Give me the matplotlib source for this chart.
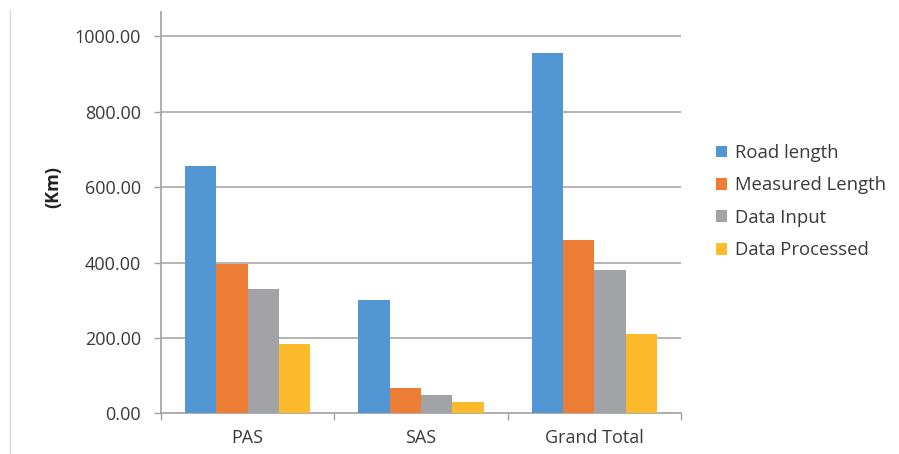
import matplotlib
matplotlib.use("Agg")
import matplotlib.pyplot as plt
import numpy as np

categories = ["PAS", "SAS", "Grand Total"]
series_names = ["Road length", "Measured Length", "Data Input", "Data Processed"]
road_length = [655, 301, 956]
measured_length = [395, 66, 459]
data_input = [330, 49, 379]
data_processed = [184, 29, 211]
yticks = [0, 200, 400, 600, 800, 1000]
ytick_labels = ["0.00", "200.00", "400.00", "600.00", "800.00", "1000.00"]

colors = ["#5297D3", "#ED7D35", "#A2A3A6", "#FDBA2A"]
plt.rcParams['font.family'] = ['Open Sans', 'DejaVu Sans']
txt = "#3a3a3a"

fig = plt.figure(figsize=(8.99, 4.54), dpi=100)
ax = fig.add_axes([0.179, 0.0896, 0.5785, 0.884])

x = np.arange(len(categories))
w = 0.181
all_series = [road_length, measured_length, data_input, data_processed]
for i, (vals, name, c) in enumerate(zip(all_series, series_names, colors)):
    ax.bar(x + (i - 1.5) * w, vals, width=w, color=c, label=name, zorder=3)

ax.set_xlim(-0.5, 2.5)
ax.set_ylim(0, 1065)
ax.set_yticks(yticks)
ax.set_yticklabels(ytick_labels, fontsize=13, color=txt)
ax.set_xticks(x)
ax.set_xticklabels(categories, fontsize=13, color=txt)
ax.set_xticks([-0.5, 0.5, 1.5, 2.5], minor=True)
ax.tick_params(axis='x', which='major', length=0, pad=11)
ax.tick_params(axis='x', which='minor', length=5, color="#A0A0A0", width=1)
ax.tick_params(axis='y', length=5, color="#A0A0A0", width=1, pad=9.5)
for y in yticks[1:]:
    ax.axhline(y, color="#A8A8A8", lw=1.2, zorder=1)
for s in ["top", "right"]:
    ax.spines[s].set_visible(False)
ax.spines["left"].set_color("#A0A0A0")
ax.spines["bottom"].set_color("#A0A0A0")
ax.spines["left"].set_linewidth(1.2)
ax.spines["bottom"].set_linewidth(1.2)
ax.set_ylabel("(Km)", fontsize=13, fontweight="bold", color="#222222")
ax.yaxis.set_label_coords(-0.19, 0.565)

leg = ax.legend(loc="center left", bbox_to_anchor=(1.035, 0.5275), frameon=False,
                fontsize=13.3, handlelength=0.6, handleheight=0.6, handletextpad=0.45,
                labelspacing=0.78, labelcolor=txt)

fig.add_artist(plt.Line2D([0.0115, 0.0115], [0, 0.978], transform=fig.transFigure,
                          color="#D8D8D8", lw=1))
fig.savefig("out.png", dpi=100)
